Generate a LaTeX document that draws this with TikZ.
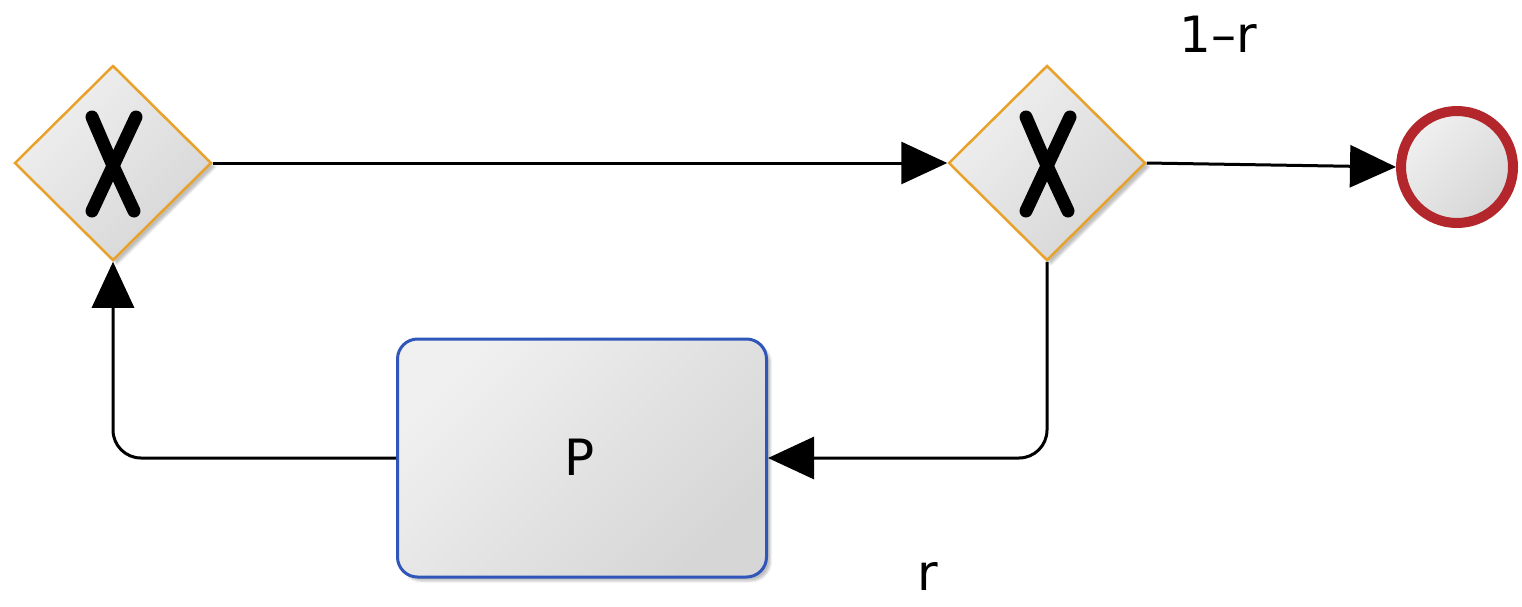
\documentclass[tikz,border=0pt]{standalone}
\usepackage{fontspec}
\setmainfont{DejaVu Sans}
\usetikzlibrary{shapes.geometric,arrows.meta,shadows.blur}
\definecolor{gwOrange}{HTML}{E8A22A}
\definecolor{taskBlue}{HTML}{2F56B8}
\definecolor{endRed}{HTML}{B3262B}
\definecolor{fillA}{HTML}{F0F0F0}
\definecolor{fillB}{HTML}{D6D6D6}
\tikzset{
  gateway/.style={diamond, aspect=1, inner sep=0pt, minimum width=197pt, minimum height=195pt,
    draw=gwOrange, line width=2.5pt, left color=fillA, right color=fillB, shading angle=45,
    blur shadow={shadow xshift=4pt, shadow yshift=-4pt, shadow opacity=25}},
  task/.style={rectangle, rounded corners=20pt, inner sep=0pt, minimum width=369pt, minimum height=238pt,
    draw=taskBlue, line width=3pt, left color=fillA, right color=fillB, shading angle=45,
    blur shadow={shadow xshift=4pt, shadow yshift=-4pt, shadow opacity=25}},
  endev/.style={circle, inner sep=0pt, minimum size=112pt, draw=endRed, line width=10pt,
    left color=fillA, right color=fillB, shading angle=45},
  flow/.style={line width=3pt, -{Triangle[length=46pt,width=42pt]}, rounded corners=28pt},
  lbl/.style={font=\fontsize{50}{60}\selectfont, inner sep=0pt},
  xmark/.style={line width=13pt, line cap=round}
}
\begin{document}
\begin{tikzpicture}[x=1pt,y=-1pt]
\useasboundingbox (0,0) rectangle (1522,606);
\node[gateway] (g1) at (113,163) {};
\node[gateway] (g2) at (1047,163) {};
\node[task] (p) at (582,458) {};
\node[endev] (e) at (1457,167) {};
\foreach \g in {g1,g2}{
  \draw[xmark] ([shift={(-21pt,-48pt)}]\g.center) .. controls ([shift={(0pt,-3pt)}]\g.center) .. ([shift={(23pt,46pt)}]\g.center);
  \draw[xmark] ([shift={(21pt,-48pt)}]\g.center) .. controls ([shift={(0pt,-3pt)}]\g.center) .. ([shift={(-21pt,46pt)}]\g.center);
}
\node[lbl, anchor=base] (pt) at (580,475) {P};
\node[lbl, anchor=base] (l1) at (1218,52) {1–r};
\node[lbl, anchor=base] (l2) at (928,590) {r};
\draw[flow] (g1.east) -- (g2.west);
\draw[flow] (g2.east) -- (e.west);
\draw[flow] (g2.south) |- (p.east);
\draw[flow] (p.west) -| (g1.south);
\end{tikzpicture}
\end{document}
